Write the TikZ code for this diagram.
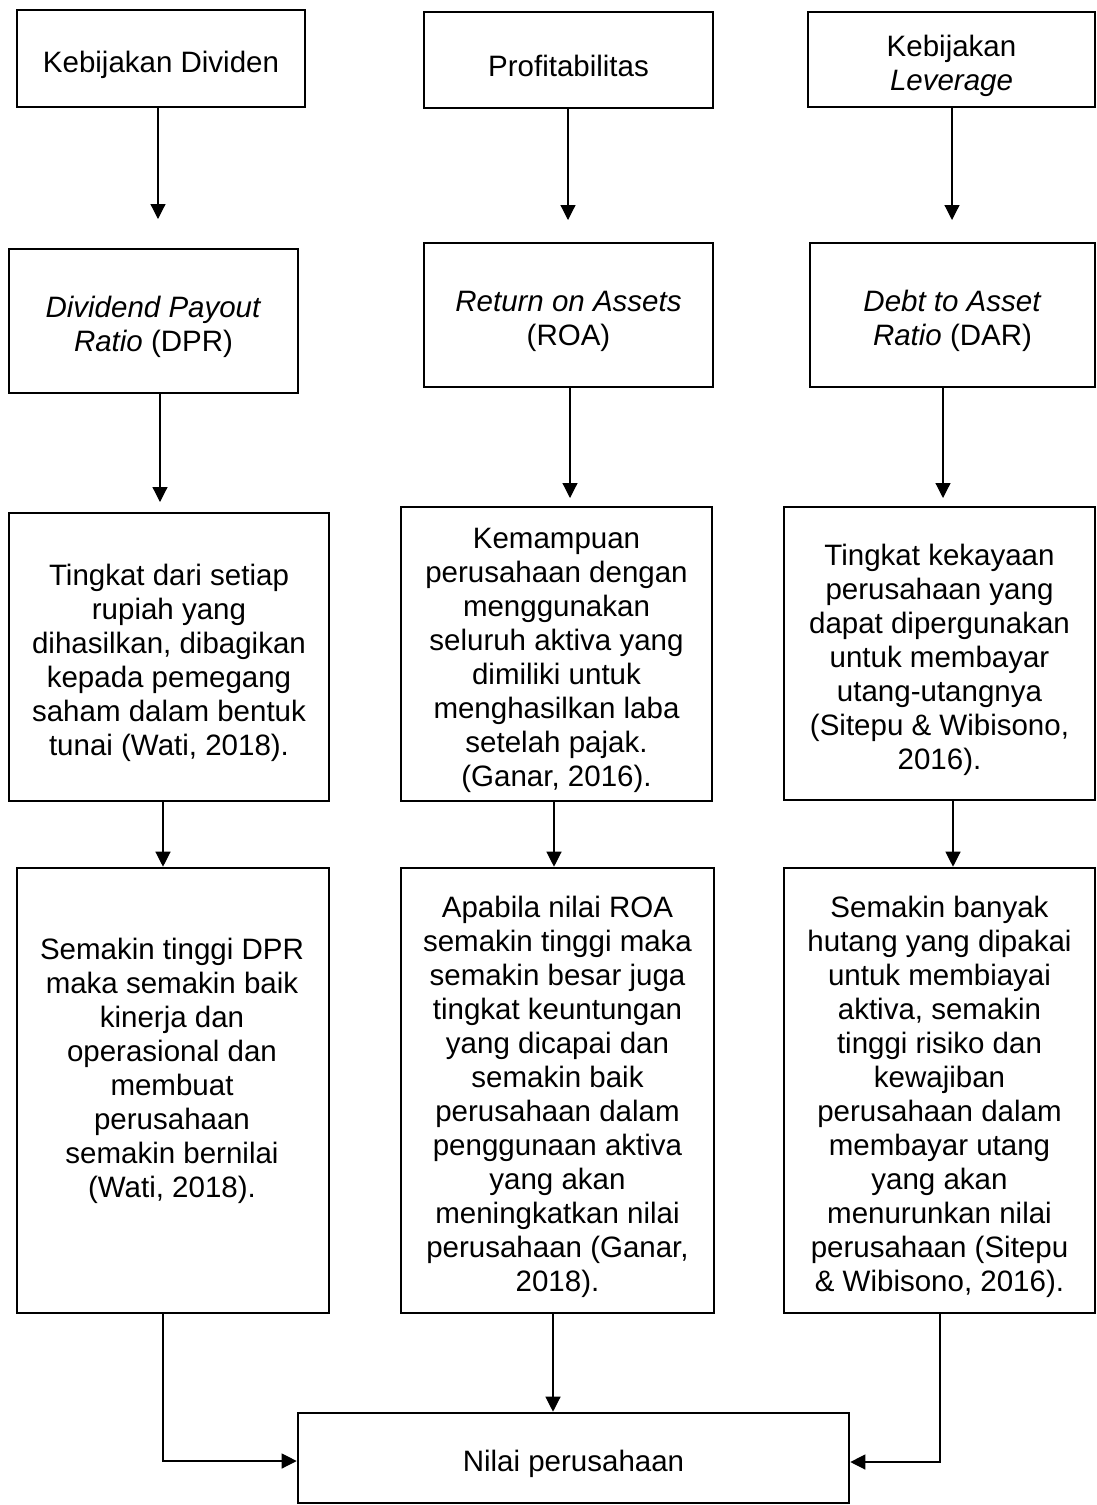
\documentclass[tikz,border=0pt]{standalone}
\usepackage{fontspec}
\setmainfont{Liberation Sans}
\usetikzlibrary{arrows.meta}
\newcommand\drawbox[6]{%
  \node[box, minimum width={#4-#2}, minimum height={#5-#3}] (#1) at ({(#2+#4)/2},{(#3+#5)/2}) {};
  \node[txt] (#1t) at ({(#2+#4)/2},{(#3+#5)/2+6}) {#6};}
\begin{document}
\begin{tikzpicture}[x=1pt,y=-1pt,
  box/.style={draw=black, line width=2.6pt, inner sep=0pt},
  txt/.style={inner sep=0pt, align=center, font=\fontsize{29.5}{34}\selectfont},
  arr/.style={draw=black, line width=1.2pt, -{Triangle[length=15pt,width=15pt]}}]
\useasboundingbox[fill=white] (0,0) rectangle (1097,1505);
% row 1
\drawbox{a1}{17}{10}{305}{107}{Kebijakan Dividen}
\drawbox{b1}{424}{12}{713}{108}{Profitabilitas}
\drawbox{c1}{808}{12}{1095}{107}{Kebijakan\\\textit{Leverage}}
% row 2
\drawbox{a2}{9}{249}{298}{393}{\textit{Dividend Payout}\\\textit{Ratio} (DPR)}
\drawbox{b2}{424}{243}{713}{387}{\textit{Return on Assets}\\(ROA)}
\drawbox{c2}{810}{243}{1095}{387}{\textit{Debt to Asset}\\\textit{Ratio} (DAR)}
% row 3
\drawbox{a3}{9}{513}{329}{801}{Tingkat dari setiap\\rupiah yang\\dihasilkan, dibagikan\\kepada pemegang\\saham dalam bentuk\\tunai (Wati, 2018).}
\drawbox{b3}{401}{507}{712}{801}{Kemampuan\\perusahaan dengan\\menggunakan\\seluruh aktiva yang\\dimiliki untuk\\menghasilkan laba\\setelah pajak.\\(Ganar, 2016).}
\drawbox{c3}{784}{507}{1095}{800}{Tingkat kekayaan\\perusahaan yang\\dapat dipergunakan\\untuk membayar\\utang-utangnya\\(Sitepu \& Wibisono,\\2016).}
% row 4
\node[box, minimum width=312, minimum height=445] (a4) at (173,1090.5) {};
\node[txt] (a4t) at (172,1071) {Semakin tinggi DPR\\maka semakin baik\\kinerja dan\\operasional dan\\membuat\\perusahaan\\semakin bernilai\\(Wati, 2018).};
\drawbox{b4}{401}{868}{714}{1313}{Apabila nilai ROA\\semakin tinggi maka\\semakin besar juga\\tingkat keuntungan\\yang dicapai dan\\semakin baik\\perusahaan dalam\\penggunaan aktiva\\yang akan\\meningkatkan nilai\\perusahaan (Ganar,\\2018).}
\drawbox{c4}{784}{868}{1095}{1313}{Semakin banyak\\hutang yang dipakai\\untuk membiayai\\aktiva, semakin\\tinggi risiko dan\\kewajiban\\perusahaan dalam\\membayar utang\\yang akan\\menurunkan nilai\\perusahaan (Sitepu\\\& Wibisono, 2016).}
% final
\drawbox{fin}{298}{1413}{849}{1503}{Nilai perusahaan}
% arrows row 1 -> 2
\coordinate (ea1) at (158,219);
\coordinate (eb1) at (568,220);
\coordinate (ec1) at (952,220);
\draw[arr] (a1.south -| ea1) -- (ea1);
\draw[arr] (b1.south -| eb1) -- (eb1);
\draw[arr] (c1.south -| ec1) -- (ec1);
% arrows row 2 -> 3
\coordinate (ea2) at (160,502);
\coordinate (eb2) at (570,498);
\coordinate (ec2) at (943,498);
\draw[arr] (a2.south -| ea2) -- (ea2);
\draw[arr] (b2.south -| eb2) -- (eb2);
\draw[arr] (c2.south -| ec2) -- (ec2);
% arrows row 3 -> 4
\coordinate (xa3) at (163,0);
\coordinate (xb3) at (554,0);
\coordinate (xc3) at (953,0);
\draw[arr] (a3.south -| xa3) -- (a4.north -| xa3);
\draw[arr] (b3.south -| xb3) -- (b4.north -| xb3);
\draw[arr] (c3.south -| xc3) -- (c4.north -| xc3);
% arrows to final
\coordinate (ya) at (0,1461);
\coordinate (yc) at (0,1462);
\coordinate (xb4) at (553,0);
\coordinate (xc4) at (940,0);
\draw[arr] (a4.south -| xa3) |- (fin.west |- ya);
\draw[arr] (b4.south -| xb4) -- (fin.north -| xb4);
\draw[arr] (c4.south -| xc4) |- (fin.east |- yc);
\end{tikzpicture}
\end{document}
